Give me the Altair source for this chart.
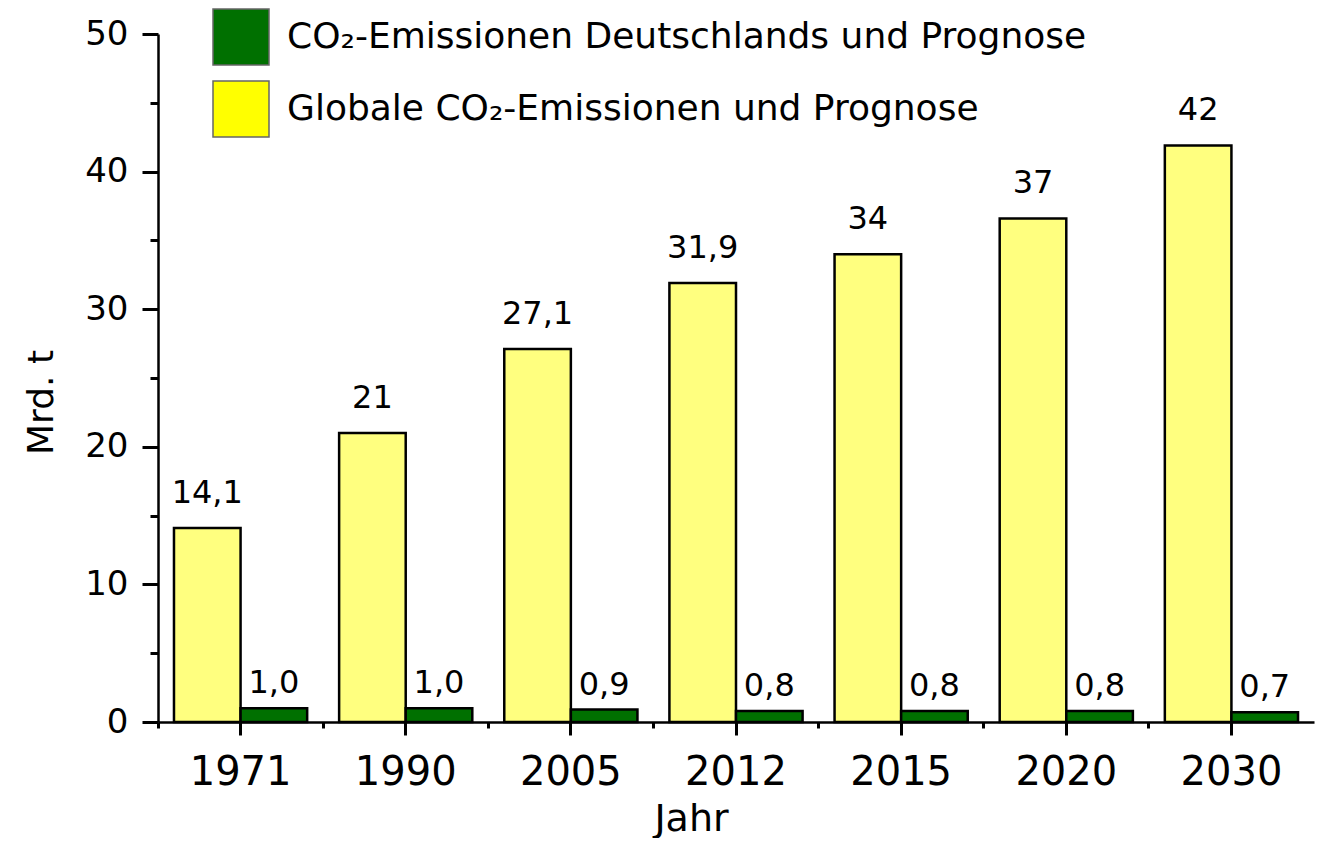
import altair as alt
import pandas as pd

years = ["1971", "1990", "2005", "2012", "2015", "2020", "2030"]
global_vals = [14.1, 21.0, 27.1, 31.9, 34.0, 36.6, 41.9]
global_labels = ["14,1", "21", "27,1", "31,9", "34", "37", "42"]
de_vals = [1.0, 1.0, 0.9, 0.8, 0.8, 0.8, 0.7]
de_labels = ["1,0", "1,0", "0,9", "0,8", "0,8", "0,8", "0,7"]

S_DE = "CO₂-Emissionen Deutschlands und Prognose"
S_GL = "Globale CO₂-Emissionen und Prognose"

rows = []
for y, v, l in zip(years, global_vals, global_labels):
    rows.append({"year": y, "series": S_GL, "value": v, "label": l})
for y, v, l in zip(years, de_vals, de_labels):
    rows.append({"year": y, "series": S_DE, "value": v, "label": l})
df = pd.DataFrame(rows)

FONT = "DejaVu Sans"

xscale = alt.Scale(type="band", paddingInner=0, paddingOuter=0)
oscale = alt.Scale(type="band", paddingInner=0, paddingOuter=0.24)
yscale = alt.Scale(domain=[0, 50], nice=False)

x_major = alt.Axis(
    labelFontSize=40, labelPadding=17, labelColor="black", labelAngle=0,
    tickSize=13, tickWidth=3, tickColor="black",
    domainWidth=2.5, domainColor="black",
    title="Jahr", titleFontSize=38, titleFontWeight="normal", titleColor="black",
    titleX=533, titleY=108, titleAlign="center", titleBaseline="alphabetic",
    grid=False,
)
y_major = alt.Axis(
    values=[0, 10, 20, 30, 40, 50], labelFontSize=34, labelPadding=14,
    labelColor="black", tickSize=16, tickWidth=3, tickColor="black",
    domainWidth=2.5, domainColor="black",
    title="Mrd. t", titleFontSize=36, titleFontWeight="normal", titleColor="black",
    titleAngle=-90, titleX=-106, titleY=368, titleAlign="center",
    titleBaseline="alphabetic", grid=False,
)
x_minor = alt.Axis(
    bandPosition=0, labels=False, domain=False, tickSize=6, tickWidth=3,
    tickColor="black", title=None, grid=False, orient="bottom",
)
y_minor = alt.Axis(
    values=[5, 15, 25, 35, 45], labels=False, domain=False, tickSize=8,
    tickWidth=3, tickColor="black", title=None, grid=False, orient="left",
)

base = alt.Chart(df)

bars = base.mark_bar(stroke="black", strokeWidth=2.5).encode(
    x=alt.X("year:N", sort=years, scale=xscale, axis=x_major),
    xOffset=alt.XOffset("series:N", sort=[S_GL, S_DE], scale=oscale),
    y=alt.Y("value:Q", scale=yscale, axis=y_major),
    color=alt.Color(
        "series:N",
        scale=alt.Scale(domain=[S_DE, S_GL], range=["#007000", "#FFFF00"]),
        legend=alt.Legend(
            orient="none", legendX=54, legendY=-26, title=None,
            symbolType="M-1,-1H1V1H-1Z", symbolSize=3136,
            symbolStrokeColor="#666666", symbolStrokeWidth=1.5,
            symbolOpacity=1,
            labelFontSize=36, labelOffset=17, labelColor="black",
            labelLimit=2000, rowPadding=10, labelFont=FONT,
        ),
    ),
    fillOpacity=alt.condition(
        alt.datum.series == S_GL, alt.value(0.5), alt.value(1.0)
    ),
)

txt_gl = base.transform_filter(alt.datum.series == S_GL).mark_text(
    fontSize=32, dy=-25, baseline="alphabetic", align="center", color="black"
).encode(
    x=alt.X("year:N", sort=years, scale=xscale, axis=None),
    xOffset=alt.XOffset("series:N", sort=[S_GL, S_DE], scale=oscale),
    y=alt.Y("value:Q", scale=yscale, axis=None),
    text="label:N",
)

txt_de = base.transform_filter(alt.datum.series == S_DE).mark_text(
    fontSize=32, dy=-15, baseline="alphabetic", align="center", color="black"
).encode(
    x=alt.X("year:N", sort=years, scale=xscale, axis=x_minor),
    xOffset=alt.XOffset("series:N", sort=[S_GL, S_DE], scale=oscale),
    y=alt.Y("value:Q", scale=yscale, axis=y_minor),
    text="label:N",
)

chart = (
    alt.layer(bars, txt_gl, txt_de)
    .resolve_axis(x="independent", y="independent")
    .properties(
        width=1156, height=688,
        padding={"left": 150, "top": 26, "right": 2, "bottom": 116},
        autosize=alt.AutoSizeParams(type="none"),
    )
    .configure(font=FONT)
    .configure_view(stroke=None)
)

chart.save("out.html", embed_options={"renderer": "svg", "actions": False})
